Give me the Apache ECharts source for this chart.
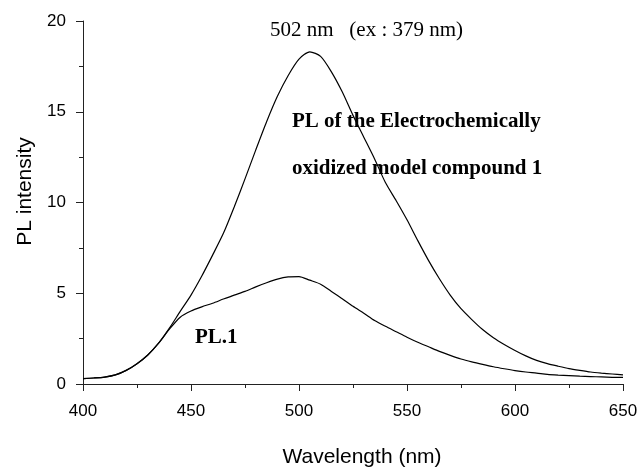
<!doctype html>
<html>
<head>
<meta charset="UTF-8">
<title>PL spectra</title>
<script src="https://cdn.jsdelivr.net/npm/echarts@6/dist/echarts.min.js"></script>
<style>
  html, body { margin: 0; padding: 0; background: #fff; }
  #main { width: 638px; height: 467px; }
</style>
</head>
<body>
<div id="main"></div>
<script type="text/javascript">
// wavelength (nm) sampled every 5 nm
var wavelength = [400, 405, 410, 415, 420, 425, 430, 435, 440, 445,
                  450, 455, 460, 465, 470, 475, 480, 485, 490, 495,
                  500, 505, 510, 515, 520, 525, 530, 535, 540, 545,
                  550, 555, 560, 565, 570, 575, 580, 585, 590, 595,
                  600, 605, 610, 615, 620, 625, 630, 635, 640, 645, 650];

// PL of the electrochemically oxidized model compound 1
var plOxidized = [0.30, 0.33, 0.38, 0.50, 0.75, 1.12, 1.60, 2.25, 3.08, 4.00,
                  4.90, 5.95, 7.10, 8.30, 9.75, 11.3, 12.9, 14.45, 15.85, 17.0,
                  17.9, 18.3, 18.05, 17.2, 16.1, 14.8, 13.6, 12.4, 11.1, 10.1,
                  9.05, 7.9, 6.8, 5.8, 4.9, 4.15, 3.55, 3.00, 2.55, 2.18,
                  1.85, 1.55, 1.30, 1.12, 0.98, 0.85, 0.75, 0.66, 0.60, 0.55, 0.50];

// PL.1
var pl1 = [0.30, 0.33, 0.38, 0.50, 0.75, 1.12, 1.60, 2.25, 3.02, 3.68,
           4.02, 4.25, 4.45, 4.68, 4.90, 5.10, 5.35, 5.58, 5.78, 5.90,
           5.92, 5.72, 5.50, 5.10, 4.70, 4.28, 3.90, 3.50, 3.18, 2.88,
           2.58, 2.30, 2.05, 1.80, 1.58, 1.38, 1.22, 1.08, 0.95, 0.84,
           0.74, 0.66, 0.60, 0.53, 0.49, 0.46, 0.43, 0.41, 0.39, 0.37, 0.36];

function pairs(xs, ys) {
    var out = [];
    for (var i = 0; i < xs.length; i++) {
        out.push([xs[i], ys[i]]);
    }
    return out;
}

var myChart = echarts.init(document.getElementById('main'));

var axisCol = '#222';
var sans = 'Liberation Sans, Arial, sans-serif';
var serif = '"Liberation Serif", "Times New Roman", serif';
var tickFont = { color: '#000', fontSize: 17, fontFamily: sans };

var option = {
    animation: false,
    backgroundColor: '#fff',
    grid: { left: 83, right: 15, top: 21, bottom: 83, outerBoundsMode: 'none' },
    xAxis: {
        type: 'value',
        min: 400, max: 650, interval: 50,
        name: 'Wavelength (nm)',
        nameLocation: 'middle',
        nameGap: 63,
        nameTextStyle: { color: '#000', fontSize: 21, fontFamily: sans, padding: [0, 0, 0, 18] },
        axisLine: { lineStyle: { color: axisCol, width: 1 } },
        axisTick: { length: 7, lineStyle: { color: axisCol } },
        minorTick: { show: true, splitNumber: 2, length: 4, lineStyle: { color: axisCol } },
        axisLabel: Object.assign({ margin: 19 }, tickFont),
        splitLine: { show: false }
    },
    yAxis: {
        type: 'value',
        min: 0, max: 20, interval: 5,
        name: 'PL intensity',
        nameLocation: 'middle',
        nameGap: 42,
        nameTextStyle: { color: '#000', fontSize: 21, fontFamily: sans, padding: [0, 0, 0, 22] },
        axisLine: { show: true, lineStyle: { color: axisCol, width: 1 } },
        axisTick: { show: true, length: 7, lineStyle: { color: axisCol } },
        minorTick: { show: true, splitNumber: 2, length: 4, lineStyle: { color: axisCol } },
        axisLabel: Object.assign({ margin: 17 }, tickFont),
        splitLine: { show: false }
    },
    series: [{
        name: 'PL of the Electrochemically oxidized model compound 1',
        type: 'line',
        smooth: 0.25,
        symbol: 'none',
        data: pairs(wavelength, plOxidized),
        lineStyle: { color: '#000', width: 1.2 }
    }, {
        name: 'PL.1',
        type: 'line',
        smooth: 0.25,
        symbol: 'none',
        data: pairs(wavelength, pl1),
        lineStyle: { color: '#000', width: 1.2 }
    }],
    graphic: [{
        type: 'text', left: 270, top: 20,
        style: { text: '502 nm   (ex : 379 nm)', fill: '#000', font: '21px ' + serif }
    }, {
        type: 'text', left: 292, top: 111,
        style: { text: 'PL of the Electrochemically', fill: '#000', font: 'bold 21px ' + serif }
    }, {
        type: 'text', left: 292, top: 158,
        style: { text: 'oxidized model compound 1', fill: '#000', font: 'bold 21px ' + serif }
    }, {
        type: 'text', left: 195, top: 327,
        style: { text: 'PL.1', fill: '#000', font: 'bold 21px ' + serif }
    }]
};

myChart.setOption(option);
</script>
</body>
</html>
